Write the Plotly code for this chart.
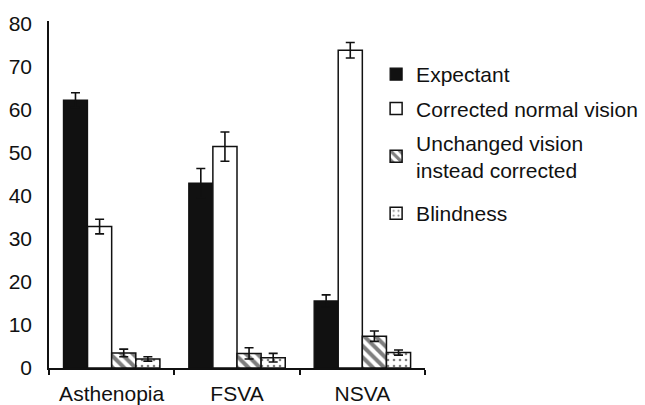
import plotly.graph_objects as go

categories = ["Asthenopia", "FSVA", "NSVA"]

expectant = [62.3, 43.0, 15.6]
expectant_err = [1.7, 3.4, 1.4]

corrected = [32.9, 51.5, 73.9]
corrected_err = [1.7, 3.4, 1.8]

unchanged = [3.5, 3.4, 7.4]
unchanged_err = [0.9, 1.3, 1.2]

blindness = [2.1, 2.4, 3.6]
blindness_err = [0.5, 1.0, 0.6]

series = [
    ("Expectant", expectant, expectant_err, "legend",
     dict(color="#111111", line=dict(color="#111111", width=1.2))),
    ("Corrected normal vision", corrected, corrected_err, "legend",
     dict(color="white", line=dict(color="#111111", width=1.5))),
    ("Unchanged vision<br>instead corrected", unchanged, unchanged_err, "legend",
     dict(color="white", line=dict(color="#111111", width=1.5),
          pattern=dict(shape="\\", fgcolor="#000000", bgcolor="white",
                       size=8, solidity=0.5))),
    ("Blindness", blindness, blindness_err, "legend2",
     dict(color="white", line=dict(color="#111111", width=1.5),
          pattern=dict(shape=".", fgcolor="#000000", bgcolor="white",
                       size=6, solidity=0.15))),
]

fig = go.Figure()
for i, (name, vals, errs, leg, marker) in enumerate(series):
    fig.add_trace(go.Bar(
        name=name,
        x=categories,
        y=vals,
        marker=marker,
        legend=leg,
        legendgroup=f"g{i}",
        error_y=dict(type="data", array=errs, visible=True,
                     color="#111111", thickness=1.6, width=4.5),
    ))

font_family = "Arial, Liberation Sans, sans-serif"
legend_style = dict(
    xanchor="left", yanchor="top",
    font=dict(size=21, color="#111111"),
    tracegroupgap=4,
    itemwidth=30,
    bgcolor="rgba(0,0,0,0)",
)

fig.update_layout(
    width=645,
    height=405,
    margin=dict(l=49, r=220, t=21, b=37, autoexpand=False),
    paper_bgcolor="white",
    plot_bgcolor="white",
    barmode="group",
    bargap=0.23,
    bargroupgap=0,
    font=dict(family=font_family, size=21, color="#111111"),
    showlegend=True,
    legend=dict(x=0.87, y=0.905, **legend_style),
    legend2=dict(x=0.87, y=0.504, **legend_style),
    xaxis=dict(
        showline=True, linecolor="#111111", linewidth=1.5,
        ticks="outside", tickson="boundaries", ticklen=5,
        tickcolor="#111111", tickwidth=1.5,
        tickfont=dict(size=21),
        ticklabelstandoff=6,
        showgrid=False,
    ),
    yaxis=dict(
        range=[0, 80.7],
        tickvals=[0, 10, 20, 30, 40, 50, 60, 70, 80],
        showline=True, linecolor="#111111", linewidth=1.5,
        ticks="", showgrid=False, zeroline=False,
        tickfont=dict(size=21),
        ticklabelstandoff=11,
    ),
)

fig.write_html("out.html")
